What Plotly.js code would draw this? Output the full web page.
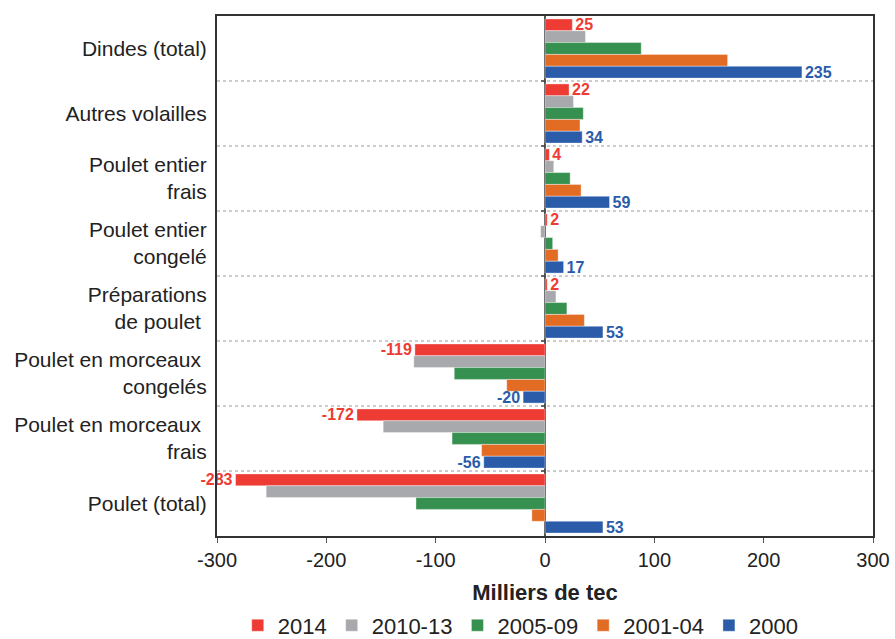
<!DOCTYPE html>
<html>
<head>
<meta charset="utf-8">
<script src="https://cdn.plot.ly/plotly-3.0.1.min.js"></script>
<style>html,body{margin:0;padding:0;background:#fff;}#chart{width:895px;height:639px;}</style>
</head>
<body>
<div id="chart"></div>
<script>
const categories = [
  "Dindes (total)",
  "Autres volailles",
  "Poulet entier<br>frais",
  "Poulet entier<br>congelé",
  "Préparations<br>de poulet\u00a0",
  "Poulet en morceaux\u00a0<br>congelés",
  "Poulet en morceaux\u00a0<br>frais",
  "Poulet (total)"
];
const seriesNames = ["2014", "2010-13", "2005-09", "2001-04", "2000"];
const v2014   = [25, 22, 4, 2, 2, -119, -172, -283];
const v201013 = [37, 26, 8, -4, 10, -120, -148, -255];
const v200509 = [88, 35, 23, 7, 20, -83, -85, -118];
const v200104 = [167, 32, 33, 12, 36, -35, -58, -12];
const v2000   = [235, 34, 59, 17, 53, -20, -56, 53];
const colors = ["#EE3B33", "#A7A9AC", "#36904F", "#E36C25", "#2A5CAA"];
const labelled = [true, false, false, false, true];
const xTicks = [-300, -200, -100, 0, 100, 200, 300];

const allValues = [v2014, v201013, v200509, v200104, v2000];
const FONT = "Liberation Sans, Arial, sans-serif";

const traces = allValues.map((vals, i) => ({
  type: "bar",
  orientation: "h",
  name: seriesNames[i],
  y: categories,
  x: vals,
  marker: {color: colors[i], line: {color: "rgba(255,255,255,0.6)", width: 0.6}},
  text: labelled[i] ? vals.map(String) : undefined,
  textposition: labelled[i] ? "outside" : "none",
  textfont: {family: FONT, size: 16, color: colors[i], weight: "bold"},
  constraintext: "none",
  cliponaxis: false,
  hoverinfo: "x+name"
}));

const shapes = [];
for (let k = 0; k < categories.length - 1; k++) {
  shapes.push({
    type: "line", xref: "paper", yref: "y",
    x0: 0, x1: 1, y0: k + 0.5, y1: k + 0.5,
    line: {color: "#9a9a9a", width: 1, dash: "3px,3px"}, layer: "below"
  });
  shapes.push({
    type: "line", xref: "x", yref: "y", xsizemode: "pixel", xanchor: 0,
    x0: -4, x1: 0, y0: k + 0.5, y1: k + 0.5,
    line: {color: "#444", width: 1.5}
  });
}

const layout = {
  width: 895, height: 639,
  margin: {l: 217, r: 22, t: 16, b: 103, autoexpand: false},
  paper_bgcolor: "#fff", plot_bgcolor: "#fff",
  barmode: "group", bargap: 0.09, bargroupgap: 0,
  showlegend: true,
  font: {family: FONT, color: "#222"},
  xaxis: {
    range: [-300, 300], tickvals: xTicks, ticktext: xTicks.map(String),
    showgrid: false, zeroline: true, zerolinecolor: "#555", zerolinewidth: 2,
    showline: true, mirror: true, linecolor: "#333", linewidth: 2,
    ticks: "outside", ticklen: 5, tickcolor: "#555", tickwidth: 1,
    tickfont: {family: FONT, size: 20, color: "#222"},
    title: {text: "Milliers de tec", font: {family: FONT, size: 22, color: "#222", weight: "bold"}, standoff: 15},
    automargin: false
  },
  yaxis: {
    autorange: "reversed", type: "category",
    showgrid: false, zeroline: false,
    showline: true, mirror: true, linecolor: "#333", linewidth: 2,
    ticks: "", ticklabelstandoff: 4,
    tickfont: {family: FONT, size: 21, color: "#222"},
    automargin: false
  },
  legend: {
    orientation: "h", x: 0.463, xanchor: "center", y: -0.172, yanchor: "middle",
    font: {family: FONT, size: 22, color: "#222"},
    traceorder: "normal", itemwidth: 30
  },
  shapes: shapes
};

Plotly.newPlot("chart", traces, layout, {displayModeBar: false, staticPlot: true});
</script>
</body>
</html>
